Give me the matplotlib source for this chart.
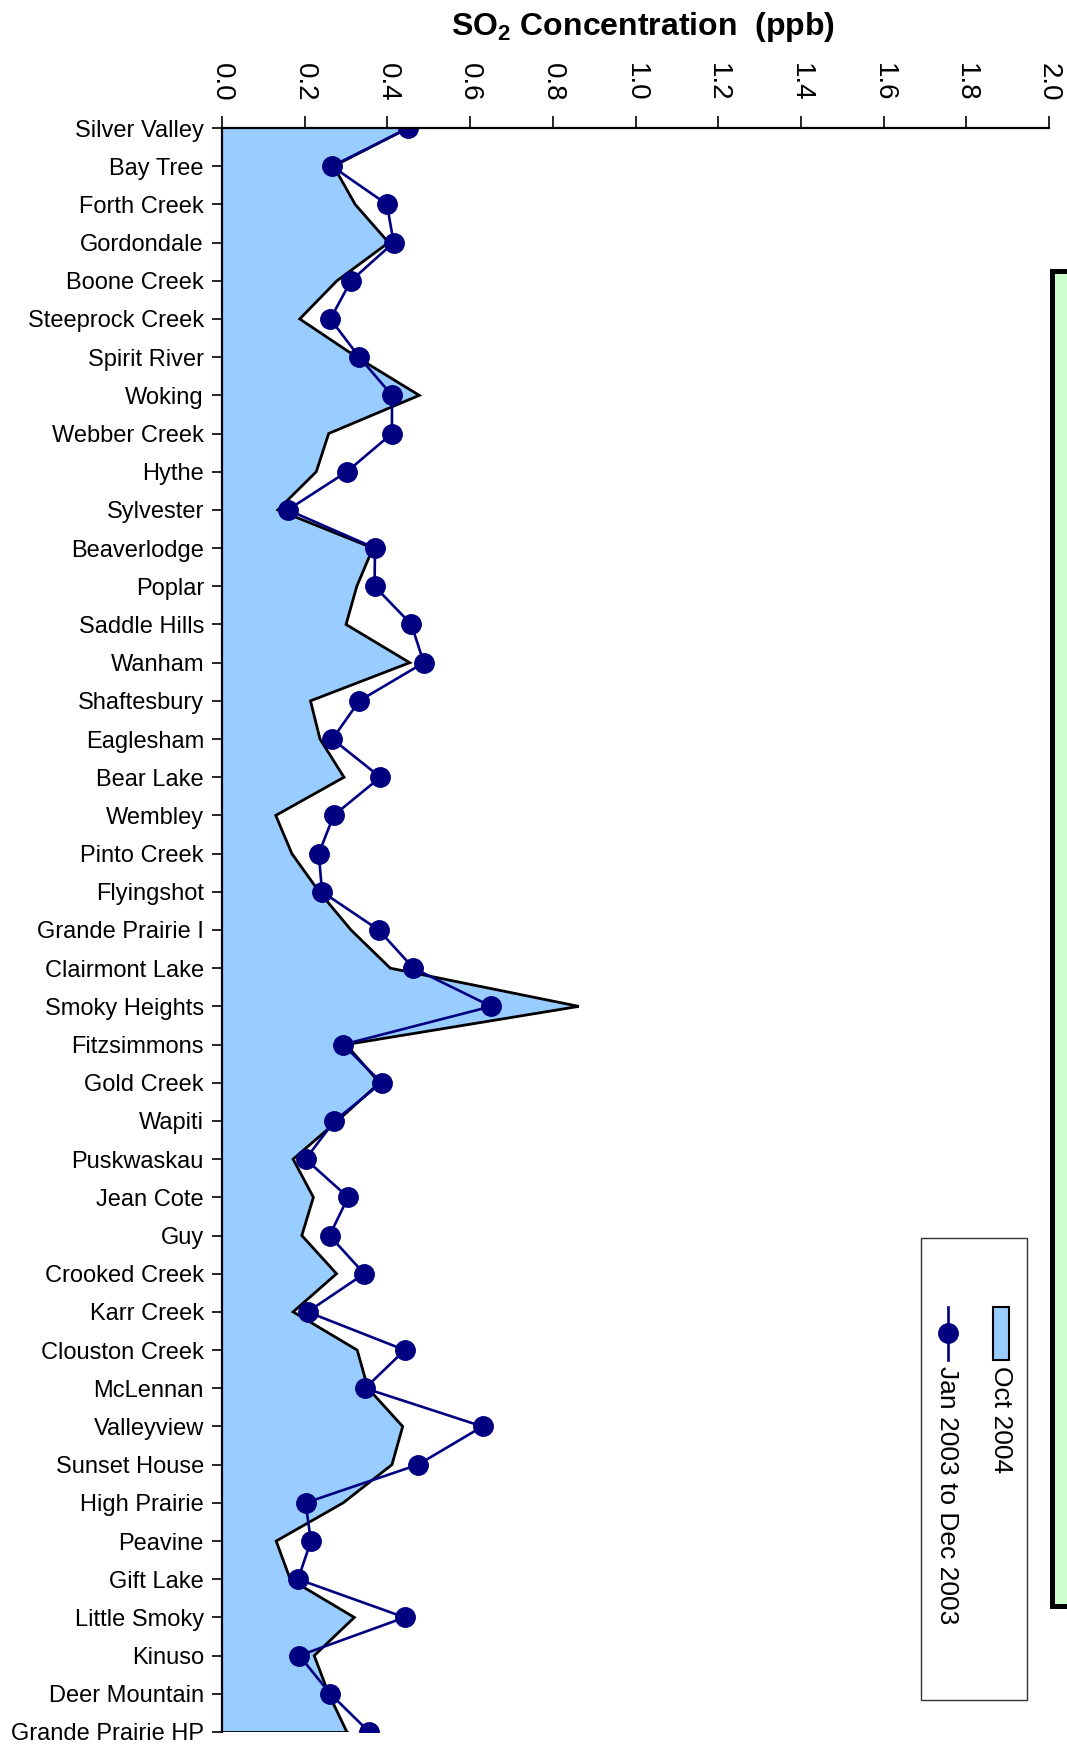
import matplotlib
matplotlib.use("Agg")
import matplotlib.pyplot as plt
from matplotlib.patches import Rectangle
from matplotlib.lines import Line2D

plt.rcParams['font.family'] = ['Liberation Sans', 'DejaVu Sans']
plt.rcParams['mathtext.fontset'] = 'custom'
plt.rcParams['mathtext.rm'] = 'Liberation Sans'
plt.rcParams['mathtext.bf'] = 'Liberation Sans:bold'

stations = ["Silver Valley", "Bay Tree", "Forth Creek", "Gordondale", "Boone Creek",
            "Steeprock Creek", "Spirit River", "Woking", "Webber Creek", "Hythe",
            "Sylvester", "Beaverlodge", "Poplar", "Saddle Hills", "Wanham",
            "Shaftesbury", "Eaglesham", "Bear Lake", "Wembley", "Pinto Creek",
            "Flyingshot", "Grande Prairie I", "Clairmont Lake", "Smoky Heights",
            "Fitzsimmons", "Gold Creek", "Wapiti", "Puskwaskau", "Jean Cote", "Guy",
            "Crooked Creek", "Karr Creek", "Clouston Creek", "McLennan", "Valleyview",
            "Sunset House", "High Prairie", "Peavine", "Gift Lake", "Little Smoky",
            "Kinuso", "Deer Mountain", "Grande Prairie HP"]

oct_2004 = [0.45, 0.27, 0.322, 0.403, 0.278, 0.188, 0.326, 0.477, 0.258, 0.228,
            0.135, 0.365, 0.326, 0.300, 0.454, 0.214, 0.237, 0.295, 0.130, 0.169,
            0.235, 0.312, 0.407, 0.863, 0.300, 0.381, 0.279, 0.172, 0.221, 0.193,
            0.277, 0.172, 0.327, 0.353, 0.437, 0.411, 0.293, 0.131, 0.165, 0.320,
            0.223, 0.258, 0.302]

jan_dec_2003 = [0.451, 0.266, 0.399, 0.415, 0.312, 0.262, 0.332, 0.411, 0.411, 0.302,
                0.159, 0.370, 0.369, 0.458, 0.488, 0.332, 0.267, 0.383, 0.270, 0.234,
                0.242, 0.379, 0.463, 0.651, 0.293, 0.386, 0.272, 0.202, 0.305, 0.260,
                0.344, 0.207, 0.442, 0.346, 0.630, 0.474, 0.202, 0.215, 0.184, 0.442,
                0.187, 0.262, 0.356]

x_ticks = [0.0, 0.2, 0.4, 0.6, 0.8, 1.0, 1.2, 1.4, 1.6, 1.8, 2.0]
x_ticklabels = ["0.0", "0.2", "0.4", "0.6", "0.8", "1.0", "1.2", "1.4", "1.6", "1.8", "2.0"]

W, H = 1067, 1745
fig = plt.figure(figsize=(W / 100, H / 100), dpi=100)

# green box (partially off-figure)
fig.patches.append(Rectangle((1052 / W, 1 - 1606 / H), 0.2, (1606 - 271) / H,
                             transform=fig.transFigure, facecolor='#CCFFCC',
                             edgecolor='black', linewidth=3.6, zorder=0))

ax = fig.add_axes([222 / W, 1 - 1732 / H, (1049 - 222) / W, (1732 - 128) / H])
ax.set_facecolor('none')
y = list(range(len(stations)))

ax.fill_betweenx(y, 0, oct_2004, facecolor='#99CCFF', edgecolor='none', zorder=1)
ax.plot(oct_2004, y, color='black', linewidth=2.0, zorder=2, solid_joinstyle='miter')
ax.plot([0, oct_2004[-1]], [y[-1], y[-1]], color='black', linewidth=2.0, zorder=2)
ax.plot(jan_dec_2003, y, color='#000080', linewidth=1.9, marker='o', markersize=14,
        markerfacecolor='#000080', markeredgecolor='#000080', zorder=3)

ax.set_xlim(0, 2.0)
ax.set_ylim(len(stations) - 1, 0)
ax.xaxis.tick_top()
ax.set_xticks(x_ticks)
ax.set_xticklabels(x_ticklabels, rotation=-90, fontsize=20)
ax.set_yticks(y)
ax.set_yticklabels(stations, fontsize=17)
ax.tick_params(axis='x', direction='out', length=9, width=1.2, pad=10, colors='black')
ax.tick_params(axis='y', direction='out', length=7, width=1.2, pad=6, colors='black')
for s in ['right', 'bottom']:
    ax.spines[s].set_visible(False)
for s in ['left', 'top']:
    ax.spines[s].set_linewidth(1.6)
    ax.spines[s].set_zorder(4)

fig.text(643 / W, 1 - 27 / H, r'SO$_\mathbf{2}$ Concentration  (ppb)', ha='center', va='center',
         fontsize=23, fontweight='bold')

# legend (rotated)
fig.patches.append(Rectangle((921 / W, 1 - 1700 / H), (1027 - 921) / W, (1700 - 1238) / H,
                             transform=fig.transFigure, facecolor='white',
                             edgecolor='#333333', linewidth=1.0, zorder=5))
fig.patches.append(Rectangle((993 / W, 1 - 1360 / H), 16 / W, 53 / H,
                             transform=fig.transFigure, facecolor='#99CCFF',
                             edgecolor='black', linewidth=1.5, zorder=6))
fig.lines.append(Line2D([947.5 / W, 947.5 / W], [1 - 1307 / H, 1 - 1360 / H],
                        transform=fig.transFigure, color='#000080', linewidth=1.9,
                        zorder=6))
fig.lines.append(Line2D([947.5 / W], [1 - 1333 / H], transform=fig.transFigure,
                        color='#000080', marker='o', markersize=14, zorder=7))
fig.text(1001 / W, 1 - 1366 / H, 'Oct 2004', rotation=-90, ha='center', va='top',
         fontsize=19, zorder=7)
fig.text(947 / W, 1 - 1366 / H, 'Jan 2003 to Dec 2003', rotation=-90, ha='center',
         va='top', fontsize=19, zorder=7)

fig.savefig('out.png', dpi=100)
